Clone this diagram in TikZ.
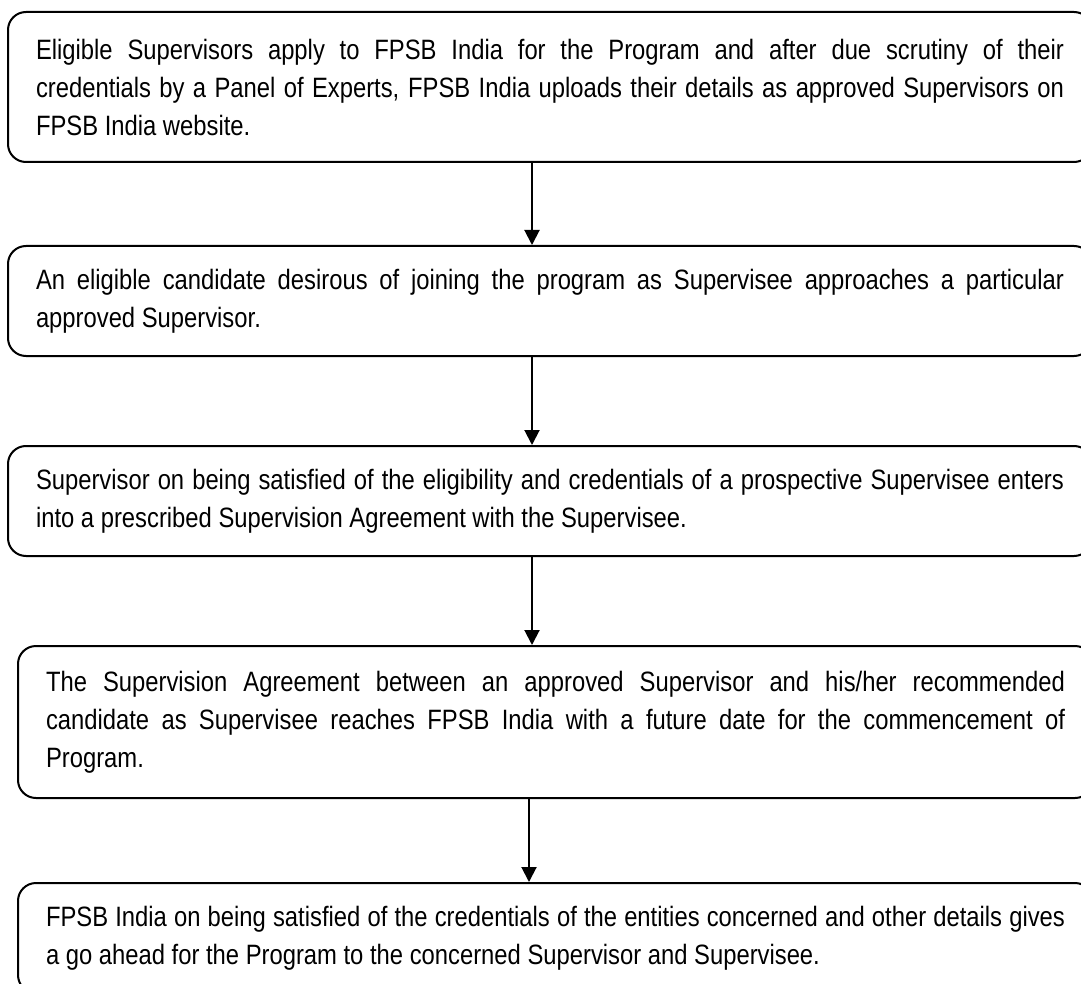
\documentclass[tikz,border=0pt]{standalone}
\usepackage{fontspec}
\setmainfont{Liberation Sans}[FakeStretch=0.85]
\usetikzlibrary{arrows.meta}
\hyphenpenalty=10000

\begin{document}
\begin{tikzpicture}[x=1pt, y=-1pt]
    \tikzstyle{stage}=[draw, line width=2pt, rounded corners=18pt, anchor=north west, align=justify, inner xsep=28pt, inner ysep=0pt, font=\fontsize{28pt}{38pt}\selectfont]
    \tikzstyle{flow}=[line width=2pt, -{Triangle[length=15pt,width=15pt]}]
    \useasboundingbox (0,0) rectangle (1081,984);
    \clip (0,0) rectangle (1081,984);
    \node [stage, text width=1028pt, minimum height=150pt] (apply) at (7,11) {Eligible Supervisors apply to FPSB India for the Program and after due scrutiny of their\linebreak credentials by a Panel of Experts, FPSB India uploads their details as approved Supervisors on\linebreak FPSB India website.};
    \node [stage, text width=1028pt, minimum height=110pt] (approach) at (7,245) {An eligible candidate desirous of joining the program as Supervisee approaches a particular\linebreak approved Supervisor.};
    \node [stage, text width=1028pt, minimum height=110pt] (agree) at (7,445) {Supervisor on being satisfied of the eligibility and credentials of a prospective Supervisee enters\linebreak into a prescribed Supervision Agreement with the Supervisee.};
    \node [stage, text width=1019pt, minimum height=152pt] (reach) at (17,645) {The Supervision Agreement between an approved Supervisor and his/her recommended\linebreak candidate as Supervisee reaches FPSB India with a future date for the commencement of\linebreak Program.};
    \node [stage, text width=1019pt, minimum height=110pt] (goahead) at (17,882) {FPSB India on being satisfied of the credentials of the entities concerned and other details gives\linebreak a go ahead for the Program to the concerned Supervisor and Supervisee.};
    \coordinate (spine) at (532,0);
    \coordinate (lastspine) at (529,0);
    \draw [flow] (apply.south -| spine) -- (approach.north -| spine);
    \draw [flow] (approach.south -| spine) -- (agree.north -| spine);
    \draw [flow] (agree.south -| spine) -- (reach.north -| spine);
    \draw [flow] (reach.south -| lastspine) -- (goahead.north -| lastspine);
\end{tikzpicture}
\end{document}
